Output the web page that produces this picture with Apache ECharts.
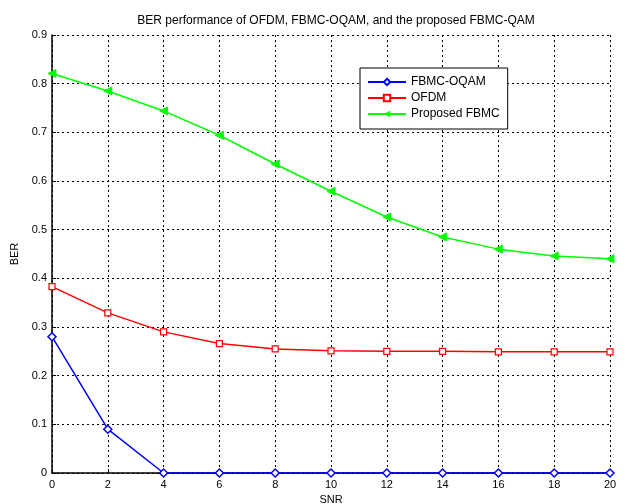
<!DOCTYPE html>
<html>
<head>
<meta charset="utf-8">
<script src="https://cdn.jsdelivr.net/npm/echarts@6/dist/echarts.min.js"></script>
<style>
  html, body { margin: 0; padding: 0; background: #fff; }
  #ber_chart { width: 642px; height: 504px; }
</style>
</head>
<body>
<div id="ber_chart"></div>
<script>
const snr = [0, 2, 4, 6, 8, 10, 12, 14, 16, 18, 20];
const fbmcOqam = [0.28, 0.09, 0.0, 0.0, 0.0, 0.0, 0.0, 0.0, 0.0, 0.0, 0.0];
const ofdm = [0.383, 0.329, 0.290, 0.266, 0.255, 0.251, 0.250, 0.250, 0.249, 0.249, 0.249];
const proposedFbmc = [0.821, 0.785, 0.744, 0.694, 0.635, 0.579, 0.526, 0.485, 0.460, 0.446, 0.440];

const pairs = (ys) => snr.map((x, i) => [x, ys[i]]);
const font = 'Liberation Sans';
const gridLine = { show: true, lineStyle: { color: '#000', type: [2, 3], width: 1 } };

let myChart = echarts.init(document.getElementById('ber_chart'));
myChart.setOption({
  animation: false,
  title: {
    text: 'BER performance of OFDM, FBMC-OQAM, and the proposed FBMC-QAM',
    left: 331, top: 10, textAlign: 'center',
    textStyle: { fontFamily: font, fontSize: 12, fontWeight: 'normal', color: '#000' }
  },
  legend: {
    left: 360, top: 68, orient: 'vertical',
    itemWidth: 38, itemHeight: 8, itemGap: 4,
    padding: [8, 8, 9, 7],
    borderColor: '#000', borderWidth: 1, backgroundColor: '#fff',
    textStyle: { fontFamily: font, fontSize: 12, color: '#000' },
    data: ['FBMC-OQAM', 'OFDM', 'Proposed FBMC']
  },
  grid: { left: 52, right: 32, top: 35, bottom: 31, outerBoundsMode: 'none' },
  xAxis: {
    type: 'value', min: 0, max: 20, interval: 2,
    name: 'SNR', nameLocation: 'middle', nameGap: 21,
    nameTextStyle: { fontFamily: font, fontSize: 11, color: '#000' },
    axisLine: { lineStyle: { color: '#000', width: 1.5 } },
    axisTick: { inside: true, length: 4, lineStyle: { color: '#000' } },
    axisLabel: { fontFamily: font, fontSize: 11, color: '#000', margin: 6 },
    splitLine: gridLine
  },
  yAxis: {
    type: 'value', min: 0, max: 0.9, interval: 0.1,
    name: 'BER', nameLocation: 'middle', nameGap: 30,
    nameTextStyle: { fontFamily: font, fontSize: 11, color: '#000' },
    axisLine: { show: true, lineStyle: { color: '#000', width: 1.5 } },
    axisTick: { show: true, inside: true, length: 4, lineStyle: { color: '#000' } },
    axisLabel: { fontFamily: font, fontSize: 11, color: '#000', margin: 5 },
    splitLine: gridLine
  },
  series: [
    {
      name: 'FBMC-OQAM', type: 'line', data: pairs(fbmcOqam),
      symbol: 'diamond', symbolSize: 8,
      lineStyle: { color: '#0000ff', width: 1.5 },
      itemStyle: { color: '#fff', borderColor: '#0000ff', borderWidth: 1.5 }
    },
    {
      name: 'OFDM', type: 'line', data: pairs(ofdm),
      symbol: 'rect', symbolSize: 6,
      lineStyle: { color: '#ff0000', width: 1.5 },
      itemStyle: { color: '#fff', borderColor: '#ff0000', borderWidth: 1.2 }
    },
    {
      name: 'Proposed FBMC', type: 'line', data: pairs(proposedFbmc),
      symbol: 'triangle', symbolRotate: 90, symbolSize: 8,
      lineStyle: { color: '#00ff00', width: 1.5 },
      itemStyle: { color: '#00ff00', borderColor: '#00ff00' }
    }
  ]
});
</script>
</body>
</html>
